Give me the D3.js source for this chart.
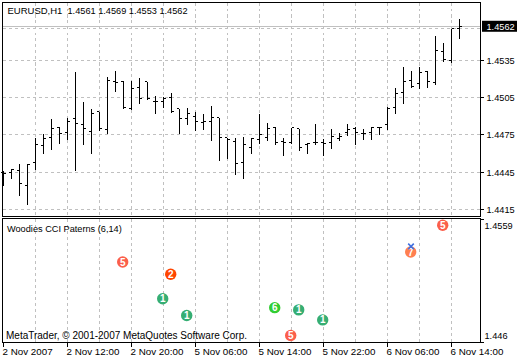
<!DOCTYPE html>
<html>
<head>
<meta charset="utf-8">
<script src="https://cdn.jsdelivr.net/npm/d3@7"></script>
<style>
	body { margin: 0; background: #fff; }
	text { font-family: "Liberation Sans", sans-serif; font-size: 9.5px; fill: #000; }
</style>
</head>
<body>
<svg id="chart" width="520" height="360"></svg>
<script>
// hourly bars
const barOpen = [1.4445,1.4445,1.4446,1.4434,1.4453,1.4466,1.4473,1.4481,1.4477,1.4488,1.4483,1.4478,1.4494,1.4479,1.4518,1.4518,1.4496,1.4513,1.4518,1.4502,1.4502,1.4505,1.4496,1.4488,1.4490,1.4485,1.4486,1.4489,1.4473,1.4470,1.4453,1.4465,1.4471,1.4473,1.4481,1.4470,1.4469,1.4480,1.4467,1.4469,1.4469,1.4469,1.4472,1.4477,1.4480,1.4476,1.4477,1.4481,1.4483,1.4497,1.4509,1.4519,1.4516,1.4526,1.4517,1.4542,1.4535,1.4561];
const barHigh = [1.4446,1.4448,1.4452,1.4452,1.4473,1.4476,1.4488,1.4482,1.4489,1.4526,1.4502,1.4496,1.4494,1.4522,1.4527,1.4519,1.4519,1.4521,1.4518,1.4507,1.4506,1.4509,1.4496,1.4497,1.4494,1.4492,1.4499,1.4489,1.4473,1.4473,1.4474,1.4473,1.4492,1.4485,1.4482,1.4473,1.4481,1.4480,1.4469,1.4484,1.4472,1.4480,1.4477,1.4484,1.4482,1.4480,1.4482,1.4482,1.4498,1.4513,1.4530,1.4527,1.4530,1.4527,1.4555,1.4549,1.4561,1.4569];
const barLow = [1.4435,1.4441,1.4427,1.4420,1.4448,1.4461,1.4464,1.4469,1.4472,1.4447,1.4468,1.4461,1.4479,1.4477,1.4511,1.4497,1.4496,1.4501,1.4504,1.4493,1.4498,1.4494,1.4477,1.4484,1.4479,1.4480,1.4471,1.4455,1.4457,1.4444,1.4441,1.4461,1.4469,1.4471,1.4468,1.4459,1.4469,1.4463,1.4461,1.4468,1.4459,1.4465,1.4471,1.4475,1.4468,1.4472,1.4472,1.4476,1.4480,1.4493,1.4501,1.4514,1.4513,1.4514,1.4516,1.4535,1.4534,1.4553];
const barClose = [1.4444,1.4447,1.4436,1.4451,1.4467,1.4472,1.4480,1.4476,1.4486,1.4484,1.4480,1.4492,1.4480,1.4519,1.4517,1.4497,1.4512,1.4504,1.4504,1.4502,1.4504,1.4494,1.4488,1.4492,1.4486,1.4486,1.4489,1.4473,1.4471,1.4452,1.4467,1.4472,1.4475,1.4480,1.4469,1.4469,1.4481,1.4465,1.4468,1.4469,1.4468,1.4474,1.4474,1.4479,1.4477,1.4476,1.4481,1.4481,1.4496,1.4508,1.4518,1.4514,1.4525,1.4518,1.4543,1.4536,1.4561,1.4562];

const priceTicks = [1.4535, 1.4505, 1.4475, 1.4445, 1.4415];
const priceGrid = [1.4561, 1.4535, 1.4505, 1.4475, 1.4445, 1.4415];
const lastPrice = 1.4562;

const timeLabels = ["2 Nov 2007", "2 Nov 12:00", "2 Nov 20:00", "5 Nov 06:00", "5 Nov 14:00", "5 Nov 22:00", "6 Nov 06:00", "6 Nov 14:00"];
const timeLabelBars = [0, 8, 16, 24, 32, 40, 48, 56];
const timeGridBars = [4, 8, 12, 16, 20, 24, 28, 32, 36, 40, 44, 48, 52, 56];

// pattern markers in the lower pane
const patternBars = [15, 20, 21, 23, 34, 36, 37, 40, 51, 55];
const patternValues = [1.4526, 1.4493, 1.4515, 1.4478, 1.4485, 1.4460, 1.4483, 1.4474, 1.4535, 1.4559];
const patternNumbers = [5, 1, 2, 1, 6, 5, 1, 1, 7, 5];
const crossBars = [51];
const crossValues = [1.4540];
const patternKinds = [1, 2, 5, 6, 7];
const patternColors = ["#35ae73", "#ff4500", "#fb5f4b", "#32cd32", "#ff7f50"];

const left = 2.5, right = 480.5;
const upperTop = 2.5, upperBottom = 216.5, lowerTop = 218.5, lowerBottom = 342.5;

const svg = d3.select("#chart");

const x = d3.scaleLinear().domain([0, 57]).range([3.5, 459.5]);
const y = d3.scaleLinear().domain([1.4415, 1.4535]).range([209.3, 60.3]);
const yLower = d3.scaleLinear().domain([1.446, 1.4559]).range([335.5, 225.3]);
const patternColor = d3.scaleOrdinal().domain(patternKinds).range(patternColors);

// snap to a pixel centre so the 1px lines stay sharp
const snap = v => Math.floor(v) + 0.5;

// grid
const grid = svg.append("g")
	.attr("stroke", "#c0c0c0")
	.attr("stroke-dasharray", "3,3")
	.attr("shape-rendering", "crispEdges");

grid.selectAll("line.h")
	.data(priceGrid)
	.enter()
	.append("line")
	.attr("class", "h")
	.attr("x1", left)
	.attr("x2", right)
	.attr("y1", d => snap(y(d)))
	.attr("y2", d => snap(y(d)));

[[upperTop, upperBottom], [lowerTop, lowerBottom]].forEach(pane => {
	grid.append("g").selectAll("line")
		.data(timeGridBars)
		.enter()
		.append("line")
		.attr("x1", d => snap(x(d)))
		.attr("x2", d => snap(x(d)))
		.attr("y1", pane[0])
		.attr("y2", pane[1]);
});

// last price line
svg.append("line")
	.attr("x1", left)
	.attr("x2", right)
	.attr("y1", snap(y(lastPrice)))
	.attr("y2", snap(y(lastPrice)))
	.attr("stroke", "#c0c0c0")
	.attr("shape-rendering", "crispEdges");

// bars: high-low stem, open tick left, close tick right
const bars = svg.append("g")
	.attr("stroke", "#000")
	.attr("shape-rendering", "crispEdges")
	.selectAll("g")
	.data(barOpen.map((d, i) => i))
	.enter()
	.append("g");

bars.append("line")
	.attr("x1", i => snap(x(i)))
	.attr("x2", i => snap(x(i)))
	.attr("y1", i => snap(y(barHigh[i])))
	.attr("y2", i => snap(y(barLow[i])) + 1);
bars.append("line")
	.attr("x1", i => Math.floor(x(i)) - 2)
	.attr("x2", i => Math.floor(x(i)))
	.attr("y1", i => snap(y(barOpen[i])))
	.attr("y2", i => snap(y(barOpen[i])));
bars.append("line")
	.attr("x1", i => Math.floor(x(i)) + 1)
	.attr("x2", i => Math.floor(x(i)) + 3)
	.attr("y1", i => snap(y(barClose[i])))
	.attr("y2", i => snap(y(barClose[i])));

// pattern markers
const markers = svg.append("g")
	.selectAll("g")
	.data(patternBars.map((d, i) => i))
	.enter()
	.append("g")
	.attr("transform", i => "translate(" + (x(patternBars[i]) - 0.8) + "," + yLower(patternValues[i]) + ")");

markers.append("circle")
	.attr("r", 5.7)
	.attr("fill", i => patternColor(patternNumbers[i]));
markers.append("text")
	.attr("text-anchor", "middle")
	.attr("dy", 3.5)
	.style("font-size", "10px")
	.style("font-weight", "bold")
	.style("fill", "#fff")
	.text(i => patternNumbers[i]);

svg.append("g")
	.selectAll("path")
	.data(crossBars)
	.enter()
	.append("path")
	.attr("d", d3.symbol(d3.symbolTimes, 22))
	.attr("transform", (d, i) => "translate(" + (x(d) - 0.5) + "," + yLower(crossValues[i]) + ")")
	.attr("stroke", "#3f6fe0")
	.attr("stroke-width", 1.6)
	.attr("fill", "none");

// pane frames
const frames = svg.append("g")
	.attr("fill", "none")
	.attr("stroke", "#000")
	.attr("shape-rendering", "crispEdges");
frames.append("rect")
	.attr("x", left).attr("y", upperTop)
	.attr("width", right - left).attr("height", upperBottom - upperTop);
frames.append("rect")
	.attr("x", left).attr("y", lowerTop)
	.attr("width", right - left).attr("height", lowerBottom - lowerTop);

// price axis
const axis = svg.append("g");
axis.selectAll("line")
	.data(priceTicks)
	.enter()
	.append("line")
	.attr("x1", right)
	.attr("x2", right + 3)
	.attr("y1", d => snap(y(d)))
	.attr("y2", d => snap(y(d)))
	.attr("stroke", "#000")
	.attr("shape-rendering", "crispEdges");
axis.selectAll("text")
	.data(priceTicks)
	.enter()
	.append("text")
	.attr("x", 486.5)
	.attr("y", d => y(d) + 3.5)
	.style("font-size", "9.2px")
	.text(d => d.toFixed(4));

svg.append("rect")
	.attr("x", 482)
	.attr("y", y(lastPrice) - 6)
	.attr("width", 35)
	.attr("height", 11)
	.attr("fill", "#000");
svg.append("text")
	.attr("x", 486.5)
	.attr("y", y(lastPrice) + 3.2)
	.style("font-size", "9.2px")
	.style("fill", "#fff")
	.text(lastPrice.toFixed(4));

// lower pane axis
svg.append("g").selectAll("text")
	.data([1.4559, 1.446])
	.enter()
	.append("text")
	.attr("x", 484.5)
	.attr("y", d => yLower(d) + 3.5)
	.style("font-size", "9.2px")
	.text(d => String(d));
svg.append("g").selectAll("line")
	.data([lowerTop + 1, lowerBottom])
	.enter()
	.append("line")
	.attr("x1", right)
	.attr("x2", right + 3)
	.attr("y1", d => d)
	.attr("y2", d => d)
	.attr("stroke", "#000")
	.attr("shape-rendering", "crispEdges");

// time axis
svg.append("g").selectAll("line")
	.data(timeLabelBars)
	.enter()
	.append("line")
	.attr("x1", d => snap(x(d)))
	.attr("x2", d => snap(x(d)))
	.attr("y1", lowerBottom)
	.attr("y2", lowerBottom + 4)
	.attr("stroke", "#000")
	.attr("shape-rendering", "crispEdges");
svg.append("g").selectAll("text")
	.data(timeLabels)
	.enter()
	.append("text")
	.attr("x", (d, i) => x(timeLabelBars[i]) - 1)
	.attr("y", 355)
	.style("font-size", "9.8px")
	.text(d => d);

// captions
svg.append("text").attr("x", 7.5).attr("y", 14).text("EURUSD,H1");
svg.append("text").attr("x", 67.5).attr("y", 14).style("font-size", "9.2px").text("1.4561 1.4569 1.4553 1.4562");
svg.append("text").attr("x", 7).attr("y", 232).style("font-size", "9.2px").text("Woodies CCI Paterns (6,14)");
svg.append("text").attr("x", 6).attr("y", 338.5).style("font-size", "10px").text("MetaTrader, © 2001-2007 MetaQuotes Software Corp.");
</script>
</body>
</html>
